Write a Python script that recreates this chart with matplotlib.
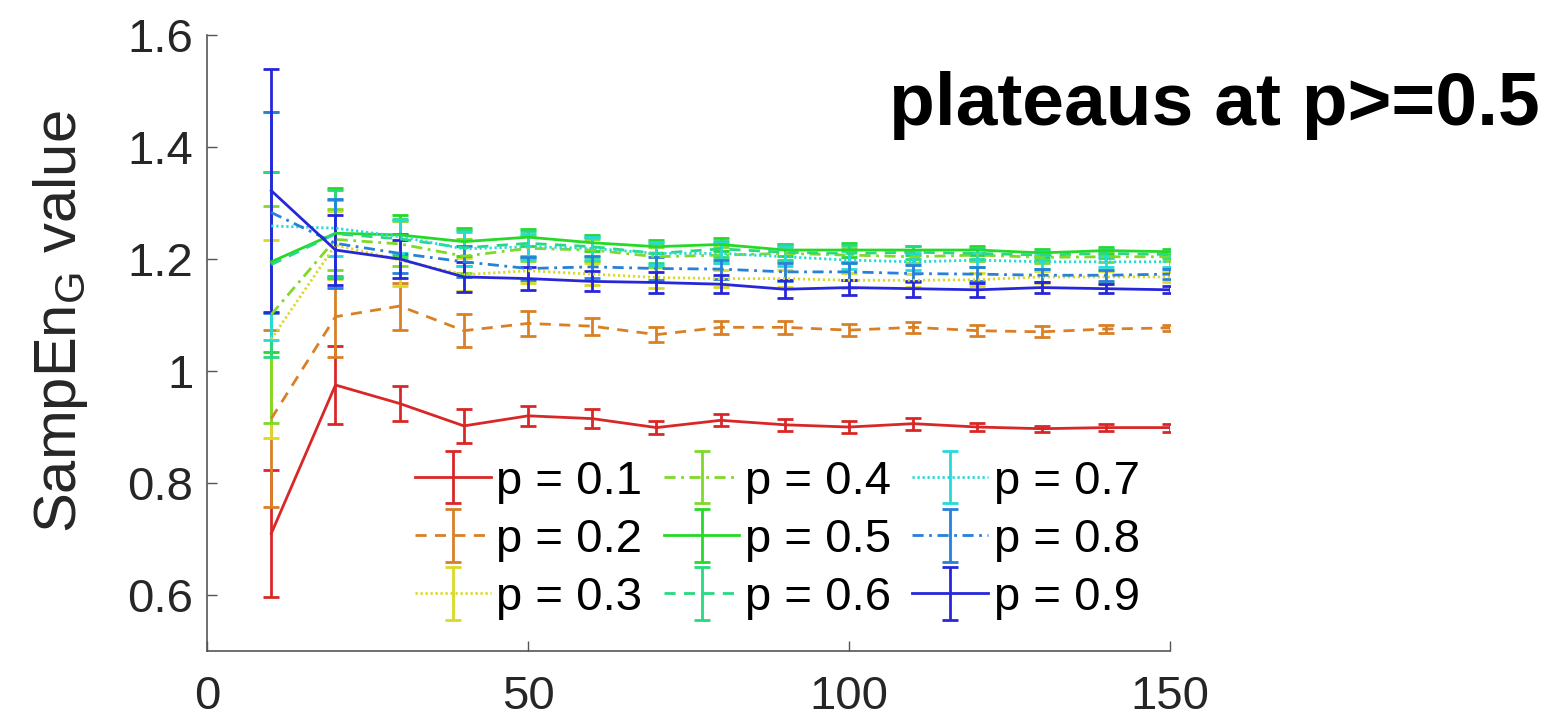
import matplotlib
matplotlib.use("Agg")
import matplotlib.pyplot as plt
from matplotlib.colors import hsv_to_rgb
from matplotlib.container import ErrorbarContainer
from matplotlib.legend_handler import HandlerErrorbar

plt.rcParams['font.family'] = ['Liberation Sans', 'DejaVu Sans']
plt.rcParams['mathtext.fontset'] = 'custom'
plt.rcParams['mathtext.rm'] = 'Liberation Sans'

x = [10, 20, 30, 40, 50, 60, 70, 80, 90, 100, 110, 120, 130, 140, 150]
labels = ["p = 0.1", "p = 0.2", "p = 0.3", "p = 0.4", "p = 0.5",
          "p = 0.6", "p = 0.7", "p = 0.8", "p = 0.9"]

p01 = [0.71, 0.975, 0.942, 0.902, 0.92, 0.915, 0.899, 0.912, 0.904, 0.9, 0.906, 0.9, 0.897, 0.899, 0.899]
p01_err = [0.113, 0.07, 0.032, 0.03, 0.018, 0.017, 0.012, 0.011, 0.011, 0.01, 0.011, 0.007, 0.005, 0.006, 0.007]
p02 = [0.915, 1.097, 1.116, 1.072, 1.085, 1.08, 1.065, 1.078, 1.078, 1.073, 1.078, 1.072, 1.07, 1.075, 1.077]
p02_err = [0.158, 0.072, 0.042, 0.03, 0.022, 0.015, 0.013, 0.012, 0.012, 0.011, 0.01, 0.01, 0.01, 0.007, 0.006]
p03 = [1.057, 1.225, 1.198, 1.172, 1.179, 1.173, 1.167, 1.165, 1.165, 1.162, 1.162, 1.163, 1.168, 1.168, 1.168]
p03_err = [0.177, 0.06, 0.046, 0.03, 0.022, 0.02, 0.018, 0.015, 0.015, 0.013, 0.012, 0.012, 0.01, 0.01, 0.009]
p04 = [1.101, 1.235, 1.227, 1.205, 1.219, 1.216, 1.204, 1.207, 1.21, 1.207, 1.204, 1.207, 1.203, 1.204, 1.204]
p04_err = [0.194, 0.055, 0.04, 0.03, 0.022, 0.02, 0.018, 0.015, 0.014, 0.013, 0.012, 0.011, 0.01, 0.009, 0.008]
p05 = [1.195, 1.246, 1.243, 1.231, 1.239, 1.229, 1.222, 1.226, 1.216, 1.216, 1.216, 1.216, 1.211, 1.215, 1.213]
p05_err = [0.161, 0.08, 0.036, 0.025, 0.015, 0.014, 0.012, 0.012, 0.01, 0.012, 0.008, 0.008, 0.007, 0.006, 0.005]
p06 = [1.19, 1.245, 1.236, 1.22, 1.228, 1.222, 1.21, 1.218, 1.212, 1.21, 1.212, 1.21, 1.207, 1.21, 1.208]
p06_err = [0.165, 0.078, 0.035, 0.032, 0.022, 0.018, 0.018, 0.015, 0.014, 0.015, 0.012, 0.01, 0.008, 0.008, 0.007]
p07 = [1.259, 1.255, 1.24, 1.218, 1.222, 1.219, 1.21, 1.21, 1.204, 1.198, 1.195, 1.198, 1.195, 1.195, 1.195]
p07_err = [0.204, 0.05, 0.03, 0.03, 0.022, 0.02, 0.02, 0.018, 0.017, 0.016, 0.015, 0.012, 0.012, 0.01, 0.01]
p08 = [1.283, 1.228, 1.21, 1.195, 1.183, 1.186, 1.183, 1.182, 1.177, 1.177, 1.174, 1.173, 1.171, 1.171, 1.173]
p08_err = [0.18, 0.08, 0.035, 0.028, 0.02, 0.02, 0.02, 0.017, 0.016, 0.015, 0.015, 0.013, 0.012, 0.01, 0.009]
p09 = [1.322, 1.216, 1.2, 1.168, 1.165, 1.16, 1.158, 1.155, 1.146, 1.149, 1.147, 1.145, 1.149, 1.147, 1.145]
p09_err = [0.217, 0.063, 0.034, 0.027, 0.02, 0.018, 0.018, 0.016, 0.016, 0.014, 0.014, 0.013, 0.01, 0.008, 0.006]

means = [p01, p02, p03, p04, p05, p06, p07, p08, p09]
errs = [p01_err, p02_err, p03_err, p04_err, p05_err, p06_err, p07_err, p08_err, p09_err]

solid = '-'
dashed = (0, (4, 3))
dotted = (0, (0.8, 1.0))
dashdot = (0, (4, 2, 1, 2))
styles = [solid, dashed, dotted, dashdot, solid, dashed, dotted, dashdot, solid]
colors = [hsv_to_rgb((h / 360.0, 0.82, 0.85)) for h in range(0, 241, 30)]

fig = plt.figure(figsize=(15.57, 7.21), dpi=100)
ax = fig.add_axes([0.133, 0.097, 0.6185, 0.8545])

handles = []
for m, e, ls, c, lab in zip(means, errs, styles, colors, labels):
    h = ax.errorbar(x, m, yerr=e, color=c, linestyle=ls, linewidth=2.0,
                    elinewidth=2.0, capsize=5.5, capthick=2.0, label=lab)
    handles.append(h)

ax.set_xlim(0, 150)
ax.set_ylim(0.5, 1.6)
ax.set_xticks([0, 50, 100, 150])
ax.set_yticks([0.6, 0.8, 1.0, 1.2, 1.4, 1.6])
ax.set_yticklabels(['0.6', '0.8', '1', '1.2', '1.4', '1.6'])
for s in ['top', 'right']:
    ax.spines[s].set_visible(False)
for s in ['left', 'bottom']:
    ax.spines[s].set_color('#555555')
    ax.spines[s].set_linewidth(1.2)
ax.tick_params(direction='in', length=7, width=1.0, color='#555555',
               labelsize=34, labelcolor='#262626')
ax.tick_params(axis='x', pad=17)
ax.tick_params(axis='y', pad=10)

ax.set_ylabel(r'SampEn$_\mathregular{G}$ value', fontsize=43, color='#262626', va='center')
ax.yaxis.set_label_coords(-0.152, 0.535)

leg = ax.legend(handles=handles, labels=labels, ncol=3, loc='lower right',
                bbox_to_anchor=(0.988, 0.02), frameon=False, fontsize=34,
                handlelength=1.6, handletextpad=0.12, columnspacing=0.45,
                labelspacing=0.3, borderaxespad=0.0,
                handler_map={ErrorbarContainer: HandlerErrorbar(xerr_size=0.5, yerr_size=0.56)})

fig.text(0.989, 0.827, 'plateaus at p>=0.5', fontsize=54, fontweight='bold',
         ha='right', va='baseline', color='black')

fig.savefig('out.png', dpi=100, facecolor='white')
